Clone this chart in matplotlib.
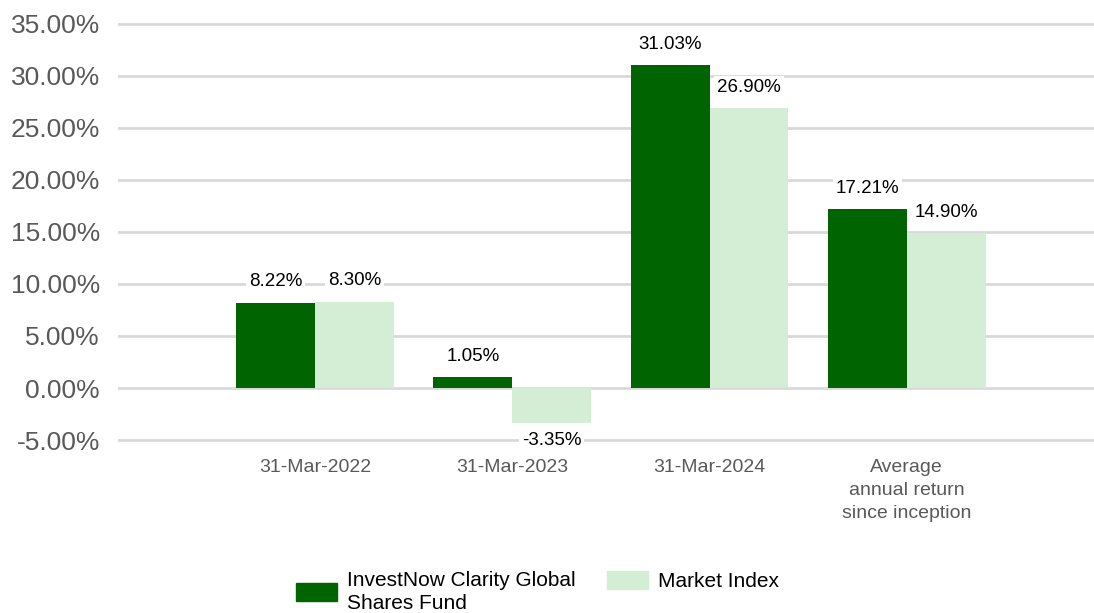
import matplotlib
matplotlib.use("Agg")
import matplotlib.pyplot as plt
from matplotlib.patches import Patch
import numpy as np

plt.rcParams['font.family'] = ['Liberation Sans', 'DejaVu Sans']

categories = ["31-Mar-2022", "31-Mar-2023", "31-Mar-2024", "Average\nannual return\nsince inception"]
fund = [8.22, 1.05, 31.03, 17.21]
index = [8.30, -3.35, 26.90, 14.90]
series_names = ["InvestNow Clarity Global\nShares Fund", "Market Index"]
yticks = [-5, 0, 5, 10, 15, 20, 25, 30, 35]

c_fund = '#006400'
c_index = '#d3eed4'

W, H = 1094, 613
fig = plt.figure(figsize=(W/100, H/100), dpi=100)
y_lo, y_hi = -5.3, 35.3
px_per = 52/5.0
bot_px = 388 + (-y_lo)*px_per
top_px = 388 - y_hi*px_per
ax = fig.add_axes([118/W, 1 - bot_px/H, 1 - 118/W, (bot_px - top_px)/H])

x = np.arange(len(categories))
w = 0.4
ax.bar(x - w/2, fund, width=w, color=c_fund, zorder=2)
ax.bar(x + w/2, index, width=w, color=c_index, zorder=2)

ax.set_xlim(-1.0, 3.95)
ax.set_ylim(y_lo, y_hi)
ax.set_yticks(yticks)
ax.set_yticklabels([f"{v:.2f}%" for v in yticks], fontsize=19, color='#595959')
ax.set_xticks(x)
ax.set_xticklabels(categories, fontsize=14, color='#595959', linespacing=1.45)
ax.tick_params(axis='both', length=0)
ax.tick_params(axis='y', pad=13)
ax.tick_params(axis='x', pad=11.5)
for s in ax.spines.values():
    s.set_visible(False)
ax.grid(axis='y', color='#d9d9d9', linewidth=2, zorder=0)
ax.set_axisbelow(True)

def label(xp, v):
    off = 15 if v >= 0 else -13
    ax.annotate(f"{v:.2f}%", xy=(xp, v), xytext=(0, off), textcoords='offset points',
                ha='center', va='center', fontsize=13.5, color='black', zorder=5,
                bbox=dict(fc='white', ec='none', pad=2))

for i in range(len(categories)):
    label(x[i] - w/2, fund[i])
    label(x[i] + w/2, index[i])

leg_kw = dict(loc='upper left', frameon=False, fontsize=15, handlelength=1.97,
              handleheight=0.96, handletextpad=0.48, borderpad=0, borderaxespad=0)
leg1 = fig.legend([Patch(color=c_fund)], [series_names[0]],
                  bbox_to_anchor=(296/W, 1 - 571/H), **leg_kw)
for t in leg1.get_texts():
    t.set_linespacing(1.26)
leg2 = fig.legend([Patch(color=c_index)], [series_names[1]],
                  bbox_to_anchor=(607/W, 1 - 571/H), **leg_kw)

fig.savefig("out.png", dpi=100, facecolor='white')
